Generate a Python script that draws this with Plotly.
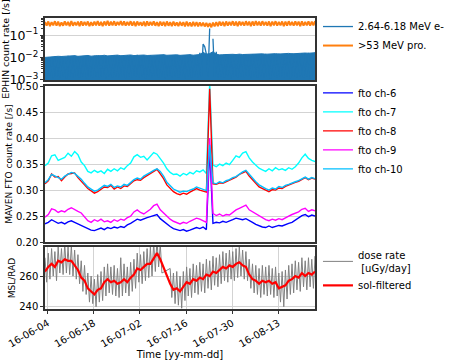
import pandas as pd
import plotly.graph_objects as go
from plotly.subplots import make_subplots

# time grids (daily and half-daily samples)
day_times = pd.date_range("2016-06-03 04:00", periods=83, freq="D")
half_times = pd.date_range("2016-06-03 04:00", periods=166, freq="12h")

# EPHIN count rates [/s], half-daily (noisy electrons swing between ~1e-2 and ~1e-3)
ephin_e = [
    0.0095, 0.0012, 0.0105, 0.0013, 0.0098, 0.0011, 0.0110, 0.0014, 0.0102, 0.0012,
    0.0112, 0.0013, 0.0104, 0.0011, 0.0118, 0.0014, 0.0107, 0.0012, 0.0121, 0.0013,
    0.0109, 0.0012, 0.0116, 0.0014, 0.0105, 0.0011, 0.0124, 0.0013, 0.0110, 0.0012,
    0.0119, 0.0014, 0.0108, 0.0012, 0.0126, 0.0013, 0.0113, 0.0011, 0.0117, 0.0014,
    0.0111, 0.0012, 0.0129, 0.0013, 0.0114, 0.0012, 0.0120, 0.0014, 0.0112, 0.0011,
    0.0123, 0.0013, 0.0115, 0.0012, 0.0118, 0.0014, 0.0131, 0.0012, 0.0114, 0.0013,
    0.0121, 0.0011, 0.0116, 0.0014, 0.0127, 0.0012, 0.0113, 0.0013, 0.0124, 0.0012,
    0.0117, 0.0014, 0.0135, 0.0011, 0.0119, 0.0013, 0.0122, 0.0012, 0.0116, 0.0014,
    0.0128, 0.0012, 0.0120, 0.0013, 0.0125, 0.0011, 0.0118, 0.0014, 0.0133, 0.0012,
    0.0121, 0.0013, 0.0126, 0.0012, 0.0160, 0.0014, 0.0400, 0.0300, 0.0140, 0.0013,
    0.2000, None, 0.0700, 0.0013, 0.0180, 0.0012, 0.0130, 0.0014, 0.0124, 0.0012,
    0.0137, 0.0013, 0.0127, 0.0011, 0.0132, 0.0014, 0.0125, 0.0012, 0.0139, 0.0013,
    0.0129, 0.0012, 0.0134, 0.0014, 0.0128, 0.0011, 0.0141, 0.0013, 0.0131, 0.0012,
    0.0136, 0.0014, 0.0130, 0.0012, 0.0145, 0.0013, 0.0133, 0.0011, 0.0139, 0.0014,
    0.0135, 0.0012, 0.0148, 0.0013, 0.0137, 0.0012, 0.0143, 0.0014, 0.0140, 0.0011,
    0.0152, 0.0013, 0.0141, 0.0012, 0.0147, 0.0014, 0.0158, 0.0012, 0.0149, 0.0013,
    0.0162, 0.0011, 0.0151, 0.0014, 0.0165, 0.0012,
]
# upper envelope of the electron noise, one value per day (shaded down to the axis)
ephin_e_env = [
    0.0100, 0.0104, 0.0108, 0.0107, 0.0112, 0.0110, 0.0113, 0.0115, 0.0114, 0.0120,
    0.0112, 0.0118, 0.0116, 0.0122, 0.0114, 0.0119, 0.0121, 0.0118, 0.0125, 0.0117,
    0.0123, 0.0120, 0.0127, 0.0119, 0.0124, 0.0122, 0.0129, 0.0121, 0.0126, 0.0123,
    0.0128, 0.0122, 0.0125, 0.0130, 0.0124, 0.0127, 0.0132, 0.0125, 0.0128, 0.0126,
    0.0131, 0.0124, 0.0129, 0.0127, 0.0133, 0.0126, 0.0130, 0.0135, 0.0170, 0.0140,
    0.0150, 0.0180, 0.0140, 0.0130, 0.0133, 0.0136, 0.0131, 0.0138, 0.0134, 0.0140,
    0.0135, 0.0137, 0.0142, 0.0136, 0.0140, 0.0138, 0.0145, 0.0139, 0.0143, 0.0141,
    0.0148, 0.0142, 0.0146, 0.0144, 0.0152, 0.0145, 0.0149, 0.0156, 0.0150, 0.0158,
    0.0154, 0.0161, 0.0163,
]
ephin_p = [
    0.40, 0.27, 0.42, 0.26, 0.39, 0.28, 0.43, 0.27, 0.41, 0.26,
    0.38, 0.27, 0.42, 0.28, 0.40, 0.26, 0.44, 0.27, 0.39, 0.28,
    0.41, 0.26, 0.43, 0.27, 0.40, 0.28, 0.42, 0.26, 0.39, 0.27,
    0.41, 0.28, 0.44, 0.27, 0.40, 0.26, 0.42, 0.28, 0.45, 0.27,
    0.41, 0.28, 0.43, 0.27, 0.40, 0.29, 0.44, 0.28, 0.42, 0.27,
    0.40, 0.28, 0.43, 0.27, 0.41, 0.26, 0.42, 0.28, 0.39, 0.27,
    0.41, 0.26, 0.43, 0.27, 0.40, 0.28, 0.42, 0.27, 0.39, 0.26,
    0.41, 0.27, 0.40, 0.26, 0.42, 0.27, 0.39, 0.26, 0.41, 0.27,
    0.38, 0.26, 0.40, 0.27, 0.39, 0.25, 0.41, 0.26, 0.38, 0.25,
    0.40, 0.26, 0.39, 0.25, 0.38, 0.26, 0.37, 0.25, 0.36, 0.24,
    0.35, 0.23, 0.37, 0.25, 0.39, 0.26, 0.41, 0.27, 0.40, 0.26,
    0.42, 0.27, 0.40, 0.28, 0.43, 0.27, 0.41, 0.26, 0.42, 0.28,
    0.40, 0.27, 0.43, 0.28, 0.41, 0.26, 0.42, 0.27, 0.44, 0.28,
    0.41, 0.27, 0.43, 0.28, 0.40, 0.27, 0.42, 0.26, 0.41, 0.28,
    0.43, 0.27, 0.40, 0.28, 0.42, 0.26, 0.41, 0.27, 0.43, 0.28,
    0.40, 0.27, 0.42, 0.28, 0.41, 0.26, 0.43, 0.27, 0.40, 0.28,
    0.42, 0.27, 0.41, 0.28, 0.43, 0.27,
]

# MAVEN FTO count rates [/s], daily
fto_ch6 = [
    0.235, 0.238, 0.243, 0.240, 0.236, 0.238, 0.235, 0.239, 0.241, 0.238,
    0.235, 0.233, 0.229, 0.226, 0.223, 0.222, 0.225, 0.227, 0.224, 0.228,
    0.226, 0.229, 0.227, 0.230, 0.228, 0.233, 0.236, 0.240, 0.244, 0.242,
    0.245, 0.247, 0.249, 0.251, 0.253, 0.245, 0.240, 0.234, 0.230, 0.226,
    0.224, 0.222, 0.224, 0.221, 0.223, 0.225, 0.228, 0.226, 0.229, 0.224,
    0.380, 0.236, 0.238, 0.237, 0.240, 0.238, 0.240, 0.243, 0.246, 0.244,
    0.243, 0.245, 0.242, 0.238, 0.234, 0.231, 0.229, 0.228, 0.231, 0.228,
    0.230, 0.232, 0.231, 0.234, 0.236, 0.238, 0.242, 0.246, 0.251, 0.253,
    0.249, 0.252, 0.250,
]
fto_ch7 = [
    0.347, 0.352, 0.366, 0.368, 0.357, 0.360, 0.363, 0.371, 0.365, 0.374,
    0.368, 0.354, 0.347, 0.336, 0.333, 0.338, 0.334, 0.337, 0.332, 0.340,
    0.336, 0.341, 0.337, 0.343, 0.340, 0.347, 0.352, 0.364, 0.368, 0.363,
    0.365, 0.358, 0.366, 0.372, 0.369, 0.361, 0.352, 0.341, 0.334, 0.330,
    0.331, 0.327, 0.332, 0.329, 0.334, 0.331, 0.337, 0.335, 0.339, 0.332,
    0.505, 0.348, 0.345, 0.350, 0.347, 0.352, 0.349, 0.357, 0.366, 0.363,
    0.371, 0.374, 0.362, 0.354, 0.348, 0.342, 0.339, 0.336, 0.341, 0.337,
    0.343, 0.339, 0.341, 0.338, 0.343, 0.340, 0.345, 0.352, 0.362, 0.369,
    0.361, 0.357, 0.355,
]
fto_ch8 = [
    0.312, 0.318, 0.331, 0.325, 0.326, 0.318, 0.325, 0.331, 0.332, 0.333,
    0.324, 0.318, 0.310, 0.303, 0.298, 0.294, 0.297, 0.301, 0.306, 0.305,
    0.309, 0.302, 0.306, 0.303, 0.308, 0.307, 0.312, 0.318, 0.320, 0.319,
    0.324, 0.328, 0.331, 0.336, 0.340, 0.331, 0.322, 0.310, 0.303, 0.297,
    0.293, 0.291, 0.294, 0.292, 0.296, 0.299, 0.303, 0.300, 0.298, 0.296,
    0.495, 0.312, 0.311, 0.314, 0.313, 0.316, 0.319, 0.322, 0.325, 0.330,
    0.333, 0.336, 0.327, 0.321, 0.313, 0.306, 0.303, 0.299, 0.297, 0.301,
    0.300, 0.304, 0.303, 0.307, 0.310, 0.312, 0.315, 0.317, 0.321, 0.324,
    0.320, 0.323, 0.321,
]
fto_ch9 = [
    0.248, 0.253, 0.264, 0.262, 0.257, 0.260, 0.258, 0.263, 0.266, 0.262,
    0.259, 0.256, 0.249, 0.241, 0.238, 0.243, 0.240, 0.244, 0.239, 0.241,
    0.238, 0.243, 0.240, 0.244, 0.242, 0.247, 0.250, 0.258, 0.262, 0.257,
    0.254, 0.259, 0.263, 0.270, 0.273, 0.262, 0.256, 0.249, 0.244, 0.240,
    0.237, 0.235, 0.238, 0.236, 0.240, 0.243, 0.246, 0.244, 0.241, 0.238,
    0.400, 0.255, 0.251, 0.254, 0.250, 0.253, 0.252, 0.257, 0.262, 0.265,
    0.268, 0.271, 0.262, 0.258, 0.255, 0.250, 0.246, 0.243, 0.241, 0.244,
    0.242, 0.245, 0.243, 0.247, 0.250, 0.253, 0.256, 0.258, 0.263, 0.265,
    0.259, 0.262, 0.260,
]
fto_ch10 = [
    0.314, 0.320, 0.330, 0.327, 0.324, 0.321, 0.327, 0.330, 0.334, 0.332,
    0.327, 0.321, 0.313, 0.306, 0.302, 0.298, 0.300, 0.304, 0.309, 0.307,
    0.311, 0.305, 0.308, 0.306, 0.311, 0.309, 0.315, 0.320, 0.323, 0.321,
    0.327, 0.330, 0.334, 0.338, 0.341, 0.336, 0.327, 0.315, 0.308, 0.302,
    0.299, 0.296, 0.298, 0.297, 0.300, 0.302, 0.306, 0.304, 0.301, 0.299,
    0.387, 0.314, 0.312, 0.316, 0.314, 0.318, 0.320, 0.324, 0.326, 0.331,
    0.335, 0.338, 0.330, 0.324, 0.316, 0.310, 0.306, 0.303, 0.300, 0.304,
    0.302, 0.307, 0.305, 0.309, 0.311, 0.314, 0.316, 0.318, 0.322, 0.325,
    0.321, 0.324, 0.322,
]

# MSL/RAD dose rate [uGy/day]: raw half-daily, sol-filtered daily (gap kept as None)
dose_raw = [
    272, 256, 275, 258, 278, 260, 276, 257, 279, 262,
    278, 261, 281, 262, 279, 261, 280, 260, 277, 258,
    274, 255, 270, 250, 267, 248, 262, 243, 260, 242,
    258, 240, 261, 243, 263, 244, 266, 247, 268, 249,
    266, 248, 267, 247, 265, 246, 272, 247, 268, 249,
    266, 247, 269, 250, 271, 252, 275, 256, 274, 255,
    276, 257, 278, 259, 279, 260, 282, 263, 284, 266,
    281, 262, None, None, None, None, 265, 246, 262, 242,
    263, 241, 260, 239, 263, 244, 266, 247, 265, 246,
    268, 249, 267, 248, 269, 250, 268, 249, 271, 252,
    270, 251, 273, 254, 272, 253, 274, 255, 276, 257,
    275, 256, 277, 258, 276, 257, 278, 259, 279, 260,
    277, 258, 276, 257, 271, 252, 268, 249, 267, 248,
    265, 246, 267, 248, 266, 247, 267, 248, 265, 246,
    266, 247, 262, 243, 263, 240, 264, 245, 267, 248,
    268, 249, 270, 251, 269, 250, 272, 253, 270, 251,
    272, 253, 271, 252, 273, 254,
]
dose_sol = [
    263, 266, 268, 266, 270, 269, 271, 270, 270, 267,
    264, 259, 257, 252, 250, 248, 251, 252, 256, 258,
    256, 257, 255, 256, 258, 256, 259, 261, 265, 264,
    266, 268, 268, 272, 275, 271, None, None, 255, 251,
    252, 250, 253, 256, 255, 258, 257, 259, 258, 261,
    260, 263, 262, 264, 266, 265, 267, 266, 268, 269,
    267, 266, 261, 258, 257, 255, 257, 256, 257, 255,
    256, 252, 253, 254, 257, 258, 260, 259, 262, 260,
    262, 261, 263,
]

FONT = "DejaVu Sans"
FRAME = "#333333"
GRID = "#d3d3d3"
E_BLUE = "#1f77b4"

fig = make_subplots(rows=3, cols=1, shared_xaxes=True)

# top: EPHIN -- the dense electron noise reads as a solid band; shade its envelope
fig.add_trace(go.Scatter(x=day_times, y=ephin_e_env, mode="lines", fill="tozeroy",
                         fillcolor=E_BLUE, line=dict(color=E_BLUE, width=1),
                         showlegend=False, hoverinfo="skip"), row=1, col=1)
fig.add_trace(go.Scatter(x=half_times, y=ephin_e, name="2.64-6.18 MeV e-",
                         mode="lines", line=dict(color=E_BLUE, width=1.3),
                         legend="legend"), row=1, col=1)
fig.add_trace(go.Scatter(x=half_times, y=ephin_p, name=">53 MeV pro.",
                         mode="lines", line=dict(color="#ff7f0e", width=2),
                         legend="legend"), row=1, col=1)

# middle: MAVEN FTO
fto = [("fto ch-6", fto_ch6, "blue"), ("fto ch-7", fto_ch7, "cyan"),
       ("fto ch-8", fto_ch8, "red"), ("fto ch-9", fto_ch9, "magenta"),
       ("fto ch-10", fto_ch10, "deepskyblue")]
for name, vals, col in fto:
    fig.add_trace(go.Scatter(x=day_times, y=vals, name=name, mode="lines",
                             line=dict(color=col, width=1.4), legend="legend2"), row=2, col=1)

# bottom: MSL/RAD
fig.add_trace(go.Scatter(x=half_times, y=dose_raw, name="dose rate<br> [uGy/day]",
                         mode="lines", connectgaps=True,
                         line=dict(color="#808080", width=1), legend="legend3"), row=3, col=1)
fig.add_trace(go.Scatter(x=day_times, y=dose_sol, name="sol-filtered",
                         mode="lines", connectgaps=True,
                         line=dict(color="red", width=2.2), legend="legend3"), row=3, col=1)

axis_common = dict(showline=True, linecolor=FRAME, linewidth=1.5, mirror=True,
                   ticks="outside", ticklen=3, tickcolor=FRAME, automargin=False,
                   tickfont=dict(family=FONT, size=10, color="black"))

fig.update_xaxes(**axis_common, range=["2016-06-03 04:00", "2016-08-24 03:30"],
                 tick0="2016-06-04", dtick=14 * 86400000, tickformat="%y-%m-%d")
fig.update_xaxes(showticklabels=False, ticks="", showgrid=False, row=1, col=1)
fig.update_xaxes(showticklabels=False, ticks="", showgrid=False, row=2, col=1)
fig.update_xaxes(tickangle=-30, showgrid=True, gridcolor=GRID, gridwidth=0.8,
                 title=dict(text="Time [yy-mm-dd]", font=dict(family=FONT, size=10, color="black"),
                            standoff=2),
                 row=3, col=1)

fig.update_yaxes(**axis_common, showgrid=True, gridcolor=GRID, gridwidth=0.8)
fig.update_yaxes(type="log", range=[-3.02, -0.22], dtick=1, exponentformat="power",
                 minor=dict(ticks="outside", ticklen=2, tickcolor=FRAME, showgrid=False),
                 domain=[0.787, 1.0],
                 title=dict(text="EPHIN count rate [/s]", font=dict(family=FONT, size=9.5, color="black"),
                            standoff=2),
                 row=1, col=1)
fig.update_yaxes(range=[0.2, 0.5], dtick=0.05, tickformat=".2f", domain=[0.23, 0.766],
                 title=dict(text="MAVEN FTO count rate [/s]", font=dict(family=FONT, size=9, color="black"),
                            standoff=2),
                 row=2, col=1)
fig.update_yaxes(range=[238.5, 279], dtick=20, domain=[0.0, 0.213],
                 title=dict(text="MSL/RAD", font=dict(family=FONT, size=9, color="black"),
                            standoff=2),
                 row=3, col=1)

legend_common = dict(xanchor="left", yanchor="middle", x=1.011, bgcolor="rgba(0,0,0,0)",
                     font=dict(family=FONT, size=10, color="black"), tracegroupgap=0)
fig.update_layout(
    width=450, height=360,
    margin=dict(l=45, r=135, t=18, b=51, autoexpand=False),
    paper_bgcolor="white", plot_bgcolor="white",
    font=dict(family=FONT, size=10, color="black"),
    legend=dict(**legend_common, y=0.938),
    legend2=dict(**legend_common, y=0.612),
    legend3=dict(**legend_common, y=0.131),
)

# drop the browser's default body margin so the 450x360 figure fills the window
fig.write_html("out.html", config={"displayModeBar": False},
               post_script="document.body.style.margin = '0';")
